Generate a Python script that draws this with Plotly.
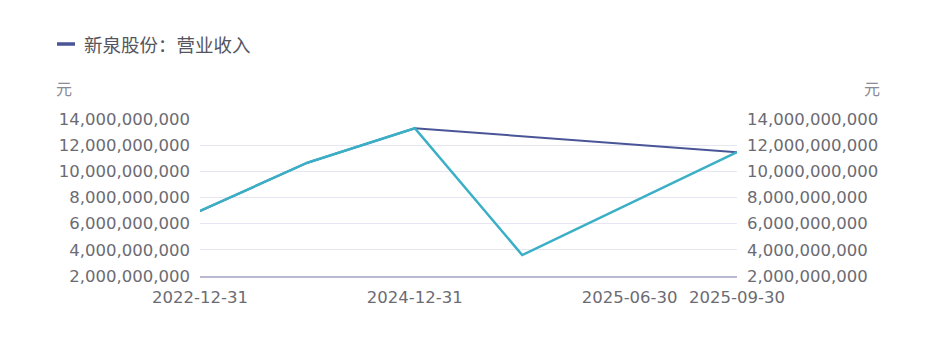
import plotly.graph_objects as go

categories = ["2022-12-31", "2023-12-31", "2024-12-31", "2025-03-31", "2025-06-30", "2025-09-30"]
revenue_annual = [6.97e9, 10.66e9, 13.29e9, None, None, 11.46e9]
revenue_teal = [6.97e9, 10.66e9, 13.29e9, 3.6e9, None, 11.46e9]
shown_ticks = ["2022-12-31", "2024-12-31", "2025-06-30", "2025-09-30"]
series_name = "新泉股份：营业收入"
unit = "元"

W, H = 937, 339
L, R, T, B = 200, 200, 119, 63
PW, PH = W - L - R, H - T - B

def px(x):
    return (x - L) / PW

def py(y):
    return (H - B - y) / PH

NUMFONT = "DejaVu Sans, Noto Sans CJK SC, sans-serif"
CJKFONT = "Noto Sans CJK SC, Noto Sans, sans-serif"
TXT = "#6b6b73"
DARK = "#4a5597"
TEAL = "#3aafc6"

fig = go.Figure()
fig.add_trace(go.Scatter(
    x=categories, y=revenue_annual, name=series_name, mode="lines",
    line=dict(color=DARK, width=2), connectgaps=True, showlegend=False,
))
fig.add_trace(go.Scatter(
    x=categories, y=revenue_teal, name="", mode="lines",
    line=dict(color=TEAL, width=2.5), connectgaps=True, showlegend=False,
    yaxis="y2",
))

yax = dict(range=[2e9, 14e9], dtick=2e9, tick0=2e9, tickformat=",",
           tickfont=dict(size=16.5, color=TXT, family=NUMFONT), zeroline=False,
           ticks="", fixedrange=True, automargin=False, ticklabelstandoff=9)

fig.update_layout(
    width=W, height=H,
    margin=dict(l=L, r=R, t=T, b=B, autoexpand=False),
    paper_bgcolor="white", plot_bgcolor="white",
    font=dict(family=CJKFONT, color=TXT),
    showlegend=False,
    xaxis=dict(type="category", categoryorder="array", categoryarray=categories,
               range=[0, len(categories) - 1], tickvals=shown_ticks,
               tickfont=dict(size=16.5, color=TXT, family=NUMFONT),
               showgrid=False, showline=True, linecolor="#b8b8d0", linewidth=1.5,
               ticks="", zeroline=False, automargin=False, ticklabelstandoff=5),
    yaxis=dict(**yax, showgrid=True, gridcolor="#e6e6f2", gridwidth=1, showline=False),
    yaxis2=dict(**yax, overlaying="y", side="right", showgrid=False, showline=False),
    shapes=[
        dict(type="line", xref="paper", yref="paper", x0=px(57), x1=px(75),
             y0=py(44), y1=py(44), line=dict(color=DARK, width=3.5)),
    ],
    annotations=[
        dict(text=series_name, xref="paper", yref="paper", x=px(82), y=py(44),
             xanchor="left", yanchor="middle", showarrow=False,
             font=dict(size=18.5, color="#555560", family=CJKFONT)),
        dict(text=unit, xref="paper", yref="paper", x=px(64), y=py(88),
             xanchor="center", yanchor="middle",
             showarrow=False, font=dict(size=16, color="#8a8a96", family=CJKFONT)),
        dict(text=unit, xref="paper", yref="paper", x=px(872), y=py(88),
             xanchor="center", yanchor="middle",
             showarrow=False, font=dict(size=16, color="#8a8a96", family=CJKFONT)),
    ],
)

fig.write_html("out.html")
